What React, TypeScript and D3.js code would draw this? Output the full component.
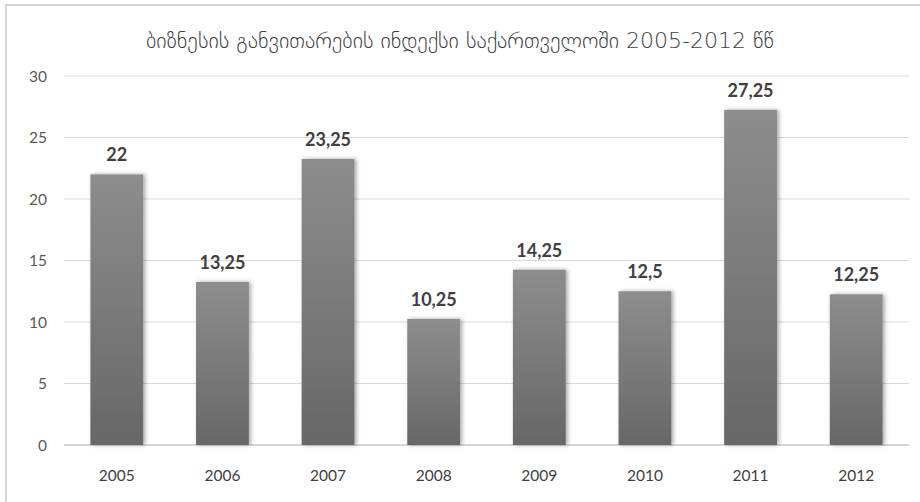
import React from "react";
import * as d3 from "d3";

const title = "ბიზნესის განვითარების ინდექსი საქართველოში 2005-2012 წწ";
const years = ["2005", "2006", "2007", "2008", "2009", "2010", "2011", "2012"];
const values = [22, 13.25, 23.25, 10.25, 14.25, 12.5, 27.25, 12.25];
const yTicks = [0, 5, 10, 15, 20, 25, 30];

const W = 920;
const H = 502;
const left = 64;
const right = 909;
const top = 76;
const bottom = 445;

export default function App() {
  const x = d3.scaleBand<string>().domain(years).range([left, right]).paddingInner(0.5).paddingOuter(0.25);
  const y = d3.scaleLinear().domain([0, 30]).range([bottom, top]);
  const fmt = (v: number) => String(v).replace(".", ",");
  const numFont = "Lato, 'Open Sans', sans-serif";
  return (
    <svg width={W} height={H} style={{ position: "absolute", left: 0, top: 0 }} fontFamily={numFont}>
      <defs>
        <linearGradient id="barGrad" x1="0" y1="0" x2="0" y2="1">
          <stop offset="0%" stopColor="#8d8d8d" />
          <stop offset="100%" stopColor="#676767" />
        </linearGradient>
        <filter id="shadow" x="-20%" y="-5%" width="150%" height="110%">
          <feGaussianBlur in="SourceAlpha" stdDeviation="2" />
          <feOffset dx="2" dy="0" result="b" />
          <feComponentTransfer><feFuncA type="linear" slope="0.35" /></feComponentTransfer>
          <feMerge>
            <feMergeNode />
            <feMergeNode in="SourceGraphic" />
          </feMerge>
        </filter>
      </defs>
      <rect x={0} y={0} width={W} height={H} fill="#ffffff" />
      <rect x={6} y={5} width={W} height={H} fill="none" stroke="#d4d4d4" strokeWidth={2} />
      <text x={460} y={48} textAnchor="middle" fontFamily="'DejaVu Sans', sans-serif" fontSize={22} fill="#404040" fontWeight={300}>
        {title}
      </text>
      {yTicks.map((t) => (
        <g key={t}>
          <line x1={left} x2={right} y1={y(t)} y2={y(t)} stroke={t === 0 ? "#c8c8c8" : "#d9d9d9"} strokeWidth={t === 0 ? 1.5 : 1} />
          <text x={47} y={y(t) + 5.5} textAnchor="end" fontSize={15.5} fill="#595959">{t}</text>
        </g>
      ))}
      {years.map((yr, i) => (
        <g key={yr}>
          <rect x={x(yr)!} y={y(values[i])} width={x.bandwidth()} height={bottom - y(values[i])} fill="url(#barGrad)" filter="url(#shadow)" />
          <text x={x(yr)! + x.bandwidth() / 2} y={y(values[i]) - 13} textAnchor="middle" fontSize={18} fontWeight={700} fill="#404040">
            {fmt(values[i])}
          </text>
          <text x={x(yr)! + x.bandwidth() / 2} y={481} textAnchor="middle" fontSize={15.5} fill="#404040">{yr}</text>
        </g>
      ))}
    </svg>
  );
}
